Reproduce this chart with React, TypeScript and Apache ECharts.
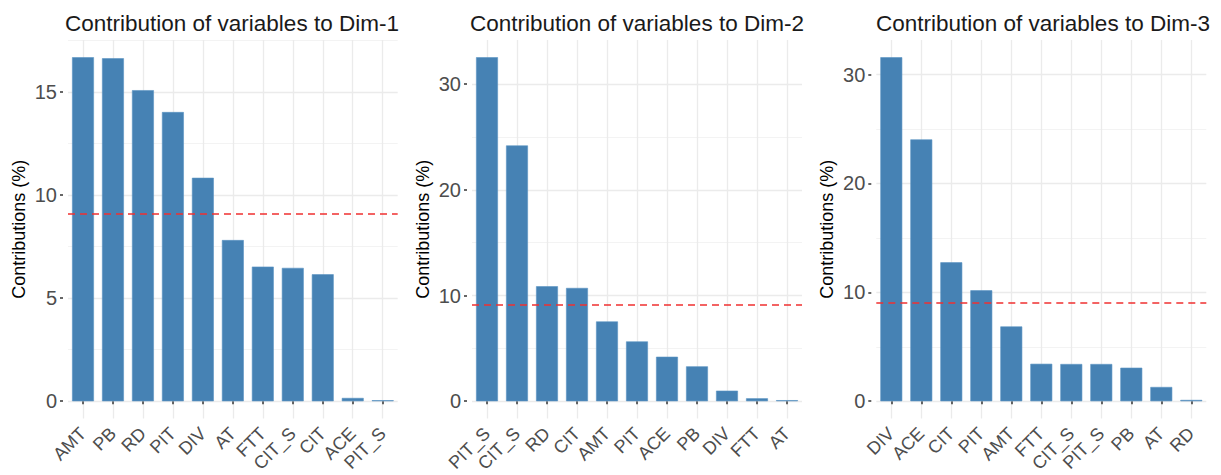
import React, { useEffect, useRef } from "react";
import * as echarts from "echarts";

const dim1Cats = ["AMT", "PB", "RD", "PIT", "DIV", "AT", "FTT", "CIT_S", "CIT", "ACE", "PIT_S"];
const dim1Vals = [16.69, 16.64, 15.09, 14.03, 10.84, 7.82, 6.53, 6.47, 6.16, 0.16, 0.05];
const dim1Major = [0, 5, 10, 15];
const dim1Minor = [2.5, 7.5, 12.5, 17.5];

const dim2Cats = ["PIT_S", "CIT_S", "RD", "CIT", "AMT", "PIT", "ACE", "PB", "DIV", "FTT", "AT"];
const dim2Vals = [32.55, 24.2, 10.88, 10.72, 7.55, 5.66, 4.21, 3.3, 1.0, 0.28, 0.1];
const dim2Major = [0, 10, 20, 30];
const dim2Minor = [5, 15, 25];

const dim3Cats = ["DIV", "ACE", "CIT", "PIT", "AMT", "FTT", "CIT_S", "PIT_S", "PB", "AT", "RD"];
const dim3Vals = [31.6, 24.05, 12.76, 10.19, 6.87, 3.44, 3.42, 3.42, 3.08, 1.31, 0.12];
const dim3Major = [0, 10, 20, 30];
const dim3Minor = [5, 15, 25];

const titles = [
  "Contribution of variables to Dim-1",
  "Contribution of variables to Dim-2",
  "Contribution of variables to Dim-3",
];
const yName = "Contributions (%)";

const FONT = "'Liberation Sans', Arial, sans-serif";
const BAR = "#4682B4";

const panels = [
  { cats: dim1Cats, vals: dim1Vals, major: dim1Major, minor: dim1Minor, left: 68, width: 329.7, titleLeft: 60 },
  { cats: dim2Cats, vals: dim2Vals, major: dim2Major, minor: dim2Minor, left: 472, width: 330, titleLeft: 465 },
  { cats: dim3Cats, vals: dim3Vals, major: dim3Major, minor: dim3Minor, left: 876.3, width: 330, titleLeft: 871 },
];

export default function App() {
  const ref = useRef<HTMLDivElement>(null);
  useEffect(() => {
    document.body.style.margin = "0";
    const chart = echarts.init(ref.current!, null, { renderer: "svg" });
    const grid: any[] = [];
    const xAxis: any[] = [];
    const yAxis: any[] = [];
    const series: any[] = [];
    const title: any[] = [];
    panels.forEach((p, i) => {
      const maxV = Math.max(...p.vals);
      const expected = 100 / p.cats.length;
      grid.push({ left: p.left, width: p.width, top: 40, height: 379.5, containLabel: false });
      title.push({
        text: titles[i],
        left: p.titleLeft,
        top: 7,
        textStyle: { fontFamily: FONT, fontSize: 22.5, fontWeight: "normal", color: "#1a1a1a" },
      });
      xAxis.push({
        type: "category",
        gridIndex: i,
        data: p.cats,
        boundaryGap: true,
        axisLine: { show: false },
        axisTick: { show: true, alignWithLabel: true, length: 3, lineStyle: { color: "#333333", width: 1.5 } },
        axisLabel: {
          interval: 0,
          rotate: 45,
          margin: 12,
          fontFamily: FONT,
          fontSize: 18,
          color: "#4D4D4D",
        },
        splitLine: { show: false },
      });
      yAxis.push({
        type: "value",
        gridIndex: i,
        min: -0.05 * maxV,
        max: 1.05 * maxV,
        offset: 5,
        axisLine: { show: false },
        axisTick: { show: true, length: 3, customValues: p.major, lineStyle: { color: "#333333", width: 1.5 } },
        axisLabel: {
          customValues: p.major,
          margin: 6,
          fontFamily: FONT,
          fontSize: 20,
          color: "#4D4D4D",
        },
        splitLine: { show: false },
        name: yName,
        nameLocation: "middle",
        nameGap: 35,
        nameTextStyle: { fontFamily: FONT, fontSize: 18, color: "#000000" },
      });
      // background grid lines
      series.push({
        type: "line",
        xAxisIndex: i,
        yAxisIndex: i,
        data: [],
        silent: true,
        showSymbol: false,
        z: 0,
        markLine: {
          silent: true,
          symbol: "none",
          z: 0,
          label: { show: false },
          animation: false,
          data: [
            ...p.minor.map((v) => ({ yAxis: v, lineStyle: { color: "#F3F3F3", width: 1, type: "solid" } })),
            ...p.major.map((v) => ({ yAxis: v, lineStyle: { color: "#EBEBEB", width: 1.3, type: "solid" } })),
            ...p.cats.map((c) => ({ xAxis: c, lineStyle: { color: "#EBEBEB", width: 1.3, type: "solid" } })),
          ],
        },
      });
      series.push({
        type: "bar",
        xAxisIndex: i,
        yAxisIndex: i,
        data: p.vals,
        barCategoryGap: "27%",
        z: 2,
        itemStyle: { color: BAR, borderColor: "#5a93c2", borderWidth: 0.6 },
        markLine: {
          silent: true,
          symbol: "none",
          z: 5,
          label: { show: false },
          animation: false,
          lineStyle: { color: "#F03030", width: 1.6, type: [7, 5] },
          data: [{ yAxis: expected }],
        },
      });
    });
    chart.setOption({
      animation: false,
      backgroundColor: "#ffffff",
      title,
      grid,
      xAxis,
      yAxis,
      series,
    });
    return () => chart.dispose();
  }, []);
  return <div ref={ref} style={{ width: 1221, height: 475 }} />;
}
